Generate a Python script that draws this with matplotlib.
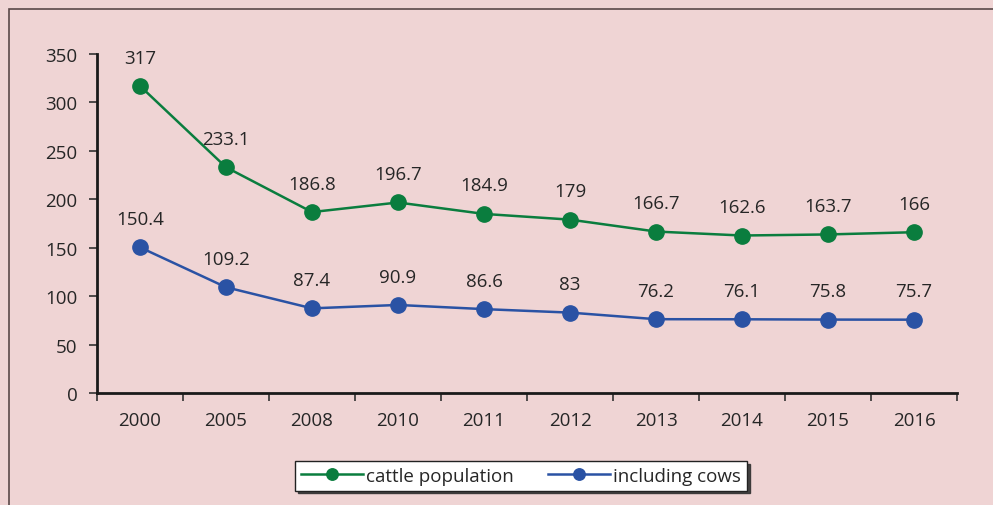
import matplotlib.pyplot as plt
from matplotlib.patches import Rectangle

years = ['2000', '2005', '2008', '2010', '2011', '2012', '2013', '2014', '2015', '2016']
cattle = [317, 233.1, 186.8, 196.7, 184.9, 179, 166.7, 162.6, 163.7, 166]
cows = [150.4, 109.2, 87.4, 90.9, 86.6, 83, 76.2, 76.1, 75.8, 75.7]

bg = '#efd4d4'
green = '#0a7d3e'
blue = '#2a52a4'
txt = '#262626'
fs = 13.5

plt.rcParams['font.family'] = ['Open Sans', 'DejaVu Sans']

fig = plt.figure(figsize=(9.93, 5.06), dpi=100, facecolor=bg)
ax = fig.add_axes([97 / 993, 1 - 394 / 506, 860 / 993, (394 - 55) / 506])
ax.set_facecolor(bg)

# outer frame
fig.patches.append(Rectangle((9 / 993, -0.1), 1.2, 1 - 10 / 506 + 0.1, transform=fig.transFigure,
                             fill=False, edgecolor='#5a4848', linewidth=1.2))

x = list(range(len(years)))
ax.plot(x, cattle, color=green, marker='o', markersize=11, linewidth=1.8, label='cattle population')
ax.plot(x, cows, color=blue, marker='o', markersize=11, linewidth=1.8, label='including cows')

for xi, v in zip(x, cattle):
    ax.annotate(f'{v:g}', (xi, v), xytext=(0, 14), textcoords='offset points',
                ha='center', va='bottom', fontsize=fs, color=txt)
for xi, v in zip(x, cows):
    ax.annotate(f'{v:g}', (xi, v), xytext=(0, 14), textcoords='offset points',
                ha='center', va='bottom', fontsize=fs, color=txt)

ax.set_xlim(-0.5, len(years) - 0.5)
ax.set_ylim(0, 350)
ax.set_yticks(range(0, 351, 50))
ax.set_xticks([i - 0.5 for i in range(len(years) + 1)])
ax.set_xticklabels([])
ax.set_xticks(x, minor=True)
ax.set_xticklabels(years, minor=True)
ax.tick_params(axis='x', which='minor', length=0, pad=13, labelsize=fs, labelcolor=txt)
ax.tick_params(axis='x', which='major', length=6, width=1.2, color='#333333')
ax.tick_params(axis='y', length=6, width=1.2, color='#333333', labelsize=fs, labelcolor=txt, pad=8)

for s in ['top', 'right']:
    ax.spines[s].set_visible(False)
for s in ['left', 'bottom']:
    ax.spines[s].set_linewidth(2)
    ax.spines[s].set_color('#1a1a1a')

leg = ax.legend(loc='center', bbox_to_anchor=(521 / 993, 1 - 477 / 506), bbox_transform=fig.transFigure,
                ncol=2, frameon=True, fancybox=False,
                shadow={'ox': 2, 'oy': -2, 'color': '#333333', 'alpha': 0.9},
                fontsize=fs, markerscale=0.75,
                handlelength=3.3, columnspacing=1.8, borderpad=0.3, handletextpad=0.2,
                borderaxespad=0)
leg.get_frame().set_edgecolor('#222222')
leg.get_frame().set_linewidth(1)
for t in leg.get_texts():
    t.set_color(txt)

fig.savefig('out.png', dpi=100, facecolor=bg)
